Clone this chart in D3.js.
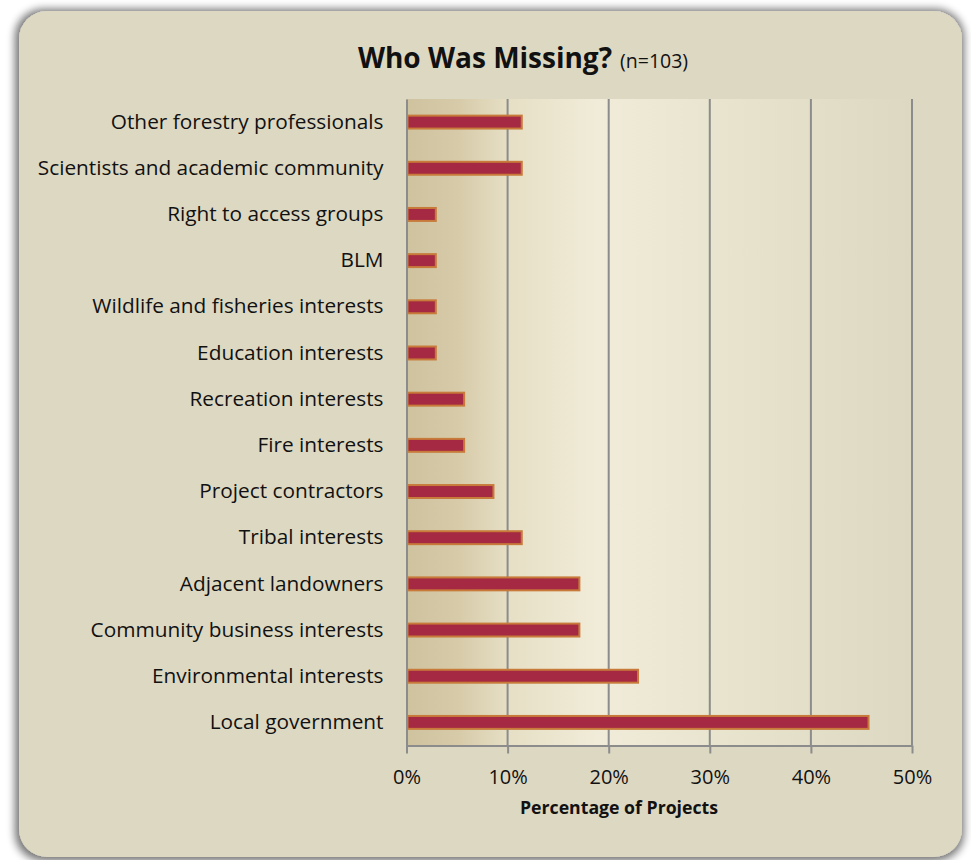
<!DOCTYPE html>
<html>
<head>
<meta charset="utf-8">
<script src="https://cdn.jsdelivr.net/npm/d3@7"></script>
<style>
  html, body { margin: 0; padding: 0; background: #ffffff; }
  svg { display: block; }
  text { font-family: "Open Sans", Lato, sans-serif; fill: #111; }
</style>
</head>
<body>
<svg id="chart" width="971" height="860"></svg>
<script>
// Stakeholder groups reported as missing, top of chart first
const categories = [
  "Other forestry professionals",
  "Scientists and academic community",
  "Right to access groups",
  "BLM",
  "Wildlife and fisheries interests",
  "Education interests",
  "Recreation interests",
  "Fire interests",
  "Project contractors",
  "Tribal interests",
  "Adjacent landowners",
  "Community business interests",
  "Environmental interests",
  "Local government"
];
// Share of projects (%)
const values = [11.4, 11.4, 2.9, 2.9, 2.9, 2.9, 5.7, 5.7, 8.6, 11.4, 17.1, 17.1, 22.9, 45.7];
const tickValues = [0, 10, 20, 30, 40, 50];

const svg = d3.select("#chart");
const defs = svg.append("defs");

// Soft grey shadow round the rounded panel
const shadow = defs.append("filter").attr("id", "shadow")
  .attr("x", "-5%").attr("y", "-5%").attr("width", "110%").attr("height", "110%");
shadow.append("feMorphology").attr("in", "SourceAlpha").attr("operator", "dilate").attr("radius", 3).attr("result", "d");
shadow.append("feGaussianBlur").attr("in", "d").attr("stdDeviation", 4).attr("result", "b");
shadow.append("feOffset").attr("in", "b").attr("dx", -1).attr("dy", 1).attr("result", "o");
shadow.append("feComponentTransfer").attr("in", "o").attr("result", "s")
  .append("feFuncA").attr("type", "linear").attr("slope", 0.55);
const merge = shadow.append("feMerge");
merge.append("feMergeNode").attr("in", "s");
merge.append("feMergeNode").attr("in", "SourceGraphic");

// Plot-area fill: tan on the left, cream in the middle, fading to panel colour
const grad = defs.append("linearGradient").attr("id", "plotfill")
  .attr("x1", "0%").attr("x2", "100%").attr("y1", "0%").attr("y2", "0%");
[["0%", "#cfc29f"], ["10%", "#d6caa8"], ["20%", "#e6dfc5"], ["38%", "#f1ecd9"], ["65%", "#e8e3cd"], ["100%", "#ddd8c2"]]
  .forEach(([o, c]) => grad.append("stop").attr("offset", o).attr("stop-color", c));

svg.append("rect")
  .attr("x", 19).attr("y", 11).attr("width", 943).attr("height", 846)
  .attr("rx", 28).attr("ry", 28)
  .attr("fill", "#ddd8c2")
  .attr("filter", "url(#shadow)");

const margin = { left: 406.5, right: 912, top: 99, bottom: 745.5 };

const x = d3.scaleLinear().domain([0, 50]).range([margin.left, margin.right]);
const y = d3.scaleBand().domain(categories).range([margin.top, margin.bottom])
  .paddingInner(0.72).paddingOuter(0.36);

svg.append("rect")
  .attr("x", x(0)).attr("y", margin.top)
  .attr("width", x(50) - x(0)).attr("height", margin.bottom - margin.top)
  .attr("fill", "url(#plotfill)");

// Vertical gridlines
svg.append("g").selectAll("line")
  .data(tickValues.slice(1))
  .join("line")
  .attr("x1", d => x(d)).attr("x2", d => x(d))
  .attr("y1", margin.top).attr("y2", margin.bottom)
  .attr("stroke", "#8c8c8c").attr("stroke-width", 2);

// Bars
svg.append("g").selectAll("rect")
  .data(values)
  .join("rect")
  .attr("x", x(0) + 1)
  .attr("y", (d, i) => y(categories[i]))
  .attr("width", d => x(d) - x(0) - 1)
  .attr("height", y.bandwidth())
  .attr("fill", "#a52942")
  .attr("stroke", "#c77a3a")
  .attr("stroke-width", 2);

// Category axis
const yAxis = svg.append("g")
  .attr("transform", `translate(${x(0)},0)`)
  .call(d3.axisLeft(y).tickSize(0).tickPadding(23));
yAxis.select(".domain").attr("stroke", "#8c8c8c").attr("stroke-width", 2);
yAxis.selectAll("text").attr("font-size", 20.8).attr("fill", "#111");

// Value axis
const xAxis = svg.append("g")
  .attr("transform", `translate(0,${margin.bottom})`)
  .call(d3.axisBottom(x).tickValues(tickValues).tickFormat(d => d + "%").tickSize(8).tickPadding(16).tickSizeOuter(0));
xAxis.select(".domain").attr("stroke", "#8c8c8c").attr("stroke-width", 2);
xAxis.selectAll(".tick line").attr("stroke", "#8c8c8c").attr("stroke-width", 2);
xAxis.selectAll("text").attr("font-size", 20).attr("fill", "#111");

svg.append("text")
  .attr("x", 619).attr("y", 814)
  .attr("text-anchor", "middle")
  .attr("font-size", 17.7).attr("font-weight", "bold")
  .text("Percentage of Projects");

// Title
const title = svg.append("text")
  .attr("x", 523).attr("y", 68)
  .attr("text-anchor", "middle");
title.append("tspan").attr("font-size", 28).attr("font-weight", "bold").text("Who Was Missing?");
title.append("tspan").attr("font-size", 19.5).attr("dx", 8).text("(n=103)");
</script>
</body>
</html>
